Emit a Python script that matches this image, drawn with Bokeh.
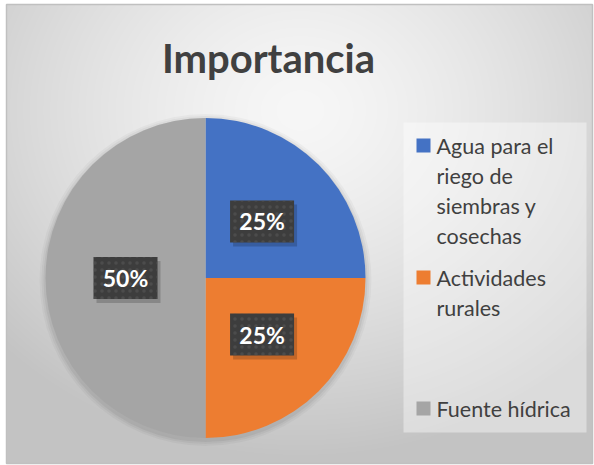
import numpy as np
from bokeh.plotting import figure
from bokeh.models import Range1d
from bokeh.core.properties import value
from bokeh.embed import file_html
from bokeh.resources import INLINE

# ---- data ----
title_text = "Importancia"
categories = ["Agua para el riego de siembras y cosechas", "Actividades rurales", "Fuente hídrica"]
legend_lines = ["Agua para el\nriego de\nsiembras y\ncosechas", "Actividades\nrurales", "Fuente hídrica"]
shares = [25, 25, 50]
colors = ["#4472C4", "#ED7D31", "#A5A5A5"]

# ---- layout (page pixel coordinates) ----
W, H = 594, 465
PAGE_H = H
FX0, FY0, FX1, FY1 = 6, 4, 592, 463   # chart frame


def dy(page_y):
    return PAGE_H - page_y


p = figure(width=W, height=H, output_backend="svg", toolbar_location=None,
           x_range=Range1d(0, W), y_range=Range1d(0, H), min_border=0)
p.axis.visible = False
p.grid.visible = False
p.outline_line_color = None
p.background_fill_color = "white"

# background radial gradient inside frame
fw, fh = FX1 - FX0, FY1 - FY0
xs = FX0 + np.arange(fw) + 0.5
ys_page = FY1 - np.arange(fh) - 0.5
XX, YY = np.meshgrid(xs, ys_page)
d = np.sqrt(((XX - 300) / 400.0) ** 2 + ((YY - 110) / 340.0) ** 2)
b = np.clip(247 - 50 * np.clip(d, 0, 1.2) ** 1.4, 195, 247).astype(np.uint32)
img = (255 << 24) | (b << 16) | (b << 8) | b
p.image_rgba(image=[img.astype(np.uint32)], x=FX0, y=dy(FY1), dw=fw, dh=fh)
p.rect(x=[(FX0 + FX1) / 2], y=[dy((FY0 + FY1) / 2)], width=fw, height=fh,
       fill_color=None, line_color="#c0c0c0", line_width=1.5)

# title
p.text(x=[268], y=[dy(57)], text=[title_text], text_font=value("Lato"),
       text_font_style="bold", text_font_size="40px", text_color="#404040",
       text_align="center", text_baseline="middle")

# pie
cx, cy, R = 205, 277.5, 160
fr = np.array(shares, dtype=float) / sum(shares)
cum = np.concatenate([[0], np.cumsum(fr)])
starts = np.pi / 2 - cum[:-1] * 2 * np.pi
ends = np.pi / 2 - cum[1:] * 2 * np.pi

# soft shadow
for k, a in [(6, 0.03), (4, 0.04), (2, 0.05)]:
    p.circle(x=[cx], y=[dy(cy + 2)], radius=R + k, radius_units="screen",
             fill_color="black", fill_alpha=a, line_color=None)

p.wedge(x=cx, y=dy(cy), radius=R, radius_units="screen",
        start_angle=starts, end_angle=ends, direction="clock",
        fill_color=colors, line_color=None)

# data labels
mid = (starts + ends) / 2
lx = cx + 0.5 * R * np.cos(mid)
ly = dy(cy) + 0.5 * R * np.sin(mid)
labels = [f"{v}%" for v in shares]
bw, bh = 64, 42
p.rect(x=lx + 3, y=ly - 4, width=bw, height=bh, width_units="screen", height_units="screen",
       fill_color="black", fill_alpha=0.18, line_color=None)
p.rect(x=lx, y=ly, width=bw, height=bh, width_units="screen", height_units="screen",
       fill_color="#3d3d3d", line_color=None,
       hatch_pattern="dot", hatch_color="#5c5c5c", hatch_scale=7, hatch_weight=1.5, hatch_alpha=0.5)
p.text(x=lx, y=ly, text=labels, text_font=value("Lato"), text_font_style="bold",
       text_font_size="23px", text_color="white", text_align="center", text_baseline="middle")

# legend
p.rect(x=[(403 + 586) / 2], y=[dy((122 + 432) / 2)], width=586 - 403, height=432 - 122,
       fill_color="white", fill_alpha=0.4, line_color=None)
item_y = [145, 277, 408]
line_gap = 30
p.rect(x=[423] * 3, y=[dy(v) for v in item_y], width=14, height=14,
       width_units="screen", height_units="screen", fill_color=colors, line_color=None)
tx, ty, tt = [], [], []
for yy, lab in zip(item_y, legend_lines):
    for k, line in enumerate(lab.split("\n")):
        tx.append(436)
        ty.append(dy(yy + k * line_gap))
        tt.append(line)
p.text(x=tx, y=ty, text=tt, text_font=value("Lato"), text_font_size="21.5px",
       text_color="#404040", text_align="left", text_baseline="middle")

open("out.html", "w").write(file_html(p, INLINE))
